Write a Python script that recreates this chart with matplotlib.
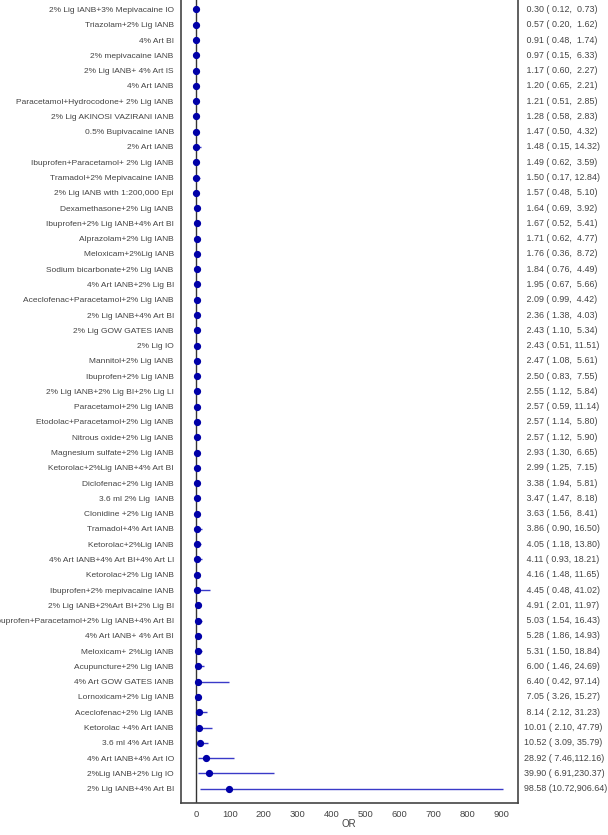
import matplotlib
matplotlib.use("Agg")
import matplotlib.pyplot as plt

plt.rcParams['font.family'] = ['Liberation Sans', 'DejaVu Sans']

# treatments, top to bottom
labels = [
    "2% Lig IANB+3% Mepivacaine IO",
    "Triazolam+2% Lig IANB",
    "4% Art BI",
    "2% mepivacaine IANB",
    "2% Lig IANB+ 4% Art IS",
    "4% Art IANB",
    "Paracetamol+Hydrocodone+ 2% Lig IANB",
    "2% Lig AKINOSI VAZIRANI IANB",
    "0.5% Bupivacaine IANB",
    "2% Art IANB",
    "Ibuprofen+Paracetamol+ 2% Lig IANB",
    "Tramadol+2% Mepivacaine IANB",
    "2% Lig IANB with 1:200,000 Epi",
    "Dexamethasone+2% Lig IANB",
    "Ibuprofen+2% Lig IANB+4% Art BI",
    "Alprazolam+2% Lig IANB",
    "Meloxicam+2%Lig IANB",
    "Sodium bicarbonate+2% Lig IANB",
    "4% Art IANB+2% Lig BI",
    "Aceclofenac+Paracetamol+2% Lig IANB",
    "2% Lig IANB+4% Art BI",
    "2% Lig GOW GATES IANB",
    "2% Lig IO",
    "Mannitol+2% Lig IANB",
    "Ibuprofen+2% Lig IANB",
    "2% Lig IANB+2% Lig BI+2% Lig LI",
    "Paracetamol+2% Lig IANB",
    "Etodolac+Paracetamol+2% Lig IANB",
    "Nitrous oxide+2% Lig IANB",
    "Magnesium sulfate+2% Lig IANB",
    "Ketorolac+2%Lig IANB+4% Art BI",
    "Diclofenac+2% Lig IANB",
    "3.6 ml 2% Lig  IANB",
    "Clonidine +2% Lig IANB",
    "Tramadol+4% Art IANB",
    "Ketorolac+2%Lig IANB",
    "4% Art IANB+4% Art BI+4% Art LI",
    "Ketorolac+2% Lig IANB",
    "Ibuprofen+2% mepivacaine IANB",
    "2% Lig IANB+2%Art BI+2% Lig BI",
    "Ibuprofen+Paracetamol+2% Lig IANB+4% Art BI",
    "4% Art IANB+ 4% Art BI",
    "Meloxicam+ 2%Lig IANB",
    "Acupuncture+2% Lig IANB",
    "4% Art GOW GATES IANB",
    "Lornoxicam+2% Lig IANB",
    "Aceclofenac+2% Lig IANB",
    "Ketorolac +4% Art IANB",
    "3.6 ml 4% Art IANB",
    "4% Art IANB+4% Art IO",
    "2%Lig IANB+2% Lig IO",
    "2% Lig IANB+4% Art BI",
]
odds = [0.30, 0.57, 0.91, 0.97, 1.17, 1.20, 1.21, 1.28, 1.47, 1.48,
        1.49, 1.50, 1.57, 1.64, 1.67, 1.71, 1.76, 1.84, 1.95, 2.09,
        2.36, 2.43, 2.43, 2.47, 2.50, 2.55, 2.57, 2.57, 2.57, 2.93,
        2.99, 3.38, 3.47, 3.63, 3.86, 4.05, 4.11, 4.16, 4.45, 4.91,
        5.03, 5.28, 5.31, 6.00, 6.40, 7.05, 8.14, 10.01, 10.52, 28.92,
        39.90, 98.58]
lower = [0.12, 0.20, 0.48, 0.15, 0.60, 0.65, 0.51, 0.58, 0.50, 0.15,
         0.62, 0.17, 0.48, 0.69, 0.52, 0.62, 0.36, 0.76, 0.67, 0.99,
         1.38, 1.10, 0.51, 1.08, 0.83, 1.12, 0.59, 1.14, 1.12, 1.30,
         1.25, 1.94, 1.47, 1.56, 0.90, 1.18, 0.93, 1.48, 0.48, 2.01,
         1.54, 1.86, 1.50, 1.46, 0.42, 3.26, 2.12, 2.10, 3.09, 7.46,
         6.91, 10.72]
upper = [0.73, 1.62, 1.74, 6.33, 2.27, 2.21, 2.85, 2.83, 4.32, 14.32,
         3.59, 12.84, 5.10, 3.92, 5.41, 4.77, 8.72, 4.49, 5.66, 4.42,
         4.03, 5.34, 11.51, 5.61, 7.55, 5.84, 11.14, 5.80, 5.90, 6.65,
         7.15, 5.81, 8.18, 8.41, 16.50, 13.80, 18.21, 11.65, 41.02, 11.97,
         16.43, 14.93, 18.84, 24.69, 97.14, 15.27, 31.23, 47.79, 35.79, 112.16,
         230.37, 906.64]

W, H = 608, 835
fig = plt.figure(figsize=(W / 100, H / 100), dpi=100)
ax = fig.add_axes([180.7 / W, 1 - 803.3 / H, 337 / W, 803.3 / H])

ypos = list(range(len(labels)))
txt = '#444444'

ax.axvline(1, color='#333333', lw=1.0, zorder=1)
ax.hlines(ypos, lower, upper, color='#3a3ac8', lw=1.0, zorder=2)
ax.plot(odds, ypos, 'o', color='#0000a8', ms=4.2, zorder=3)

ax.set_xlim(-45, 949)
ax.set_ylim(len(labels) - 1 + 0.96, -0.62)
ax.set_yticks(ypos)
ax.set_yticklabels(labels)
ax.set_xticks(range(0, 1000, 100))
ax.tick_params(axis='y', length=0, pad=5, labelsize=6.0, labelcolor=txt)
ax.tick_params(axis='x', length=0, pad=5, labelsize=6.8, labelcolor=txt)
ax.set_xlabel('OR', fontsize=7, color=txt, labelpad=0)

ax.spines['top'].set_visible(False)
for s in ['left', 'bottom', 'right']:
    ax.spines[s].set_color('#444444')
    ax.spines[s].set_linewidth(1.2)

for y, o, lo, hi in zip(ypos, odds, lower, upper):
    s = "%5.2f (%5.2f,%6.2f)" % (o, lo, hi)
    ax.text(1.02, y, s, transform=ax.get_yaxis_transform(),
            ha='left', va='center', fontsize=6.4, color=txt)

fig.savefig('out.png', dpi=100)
